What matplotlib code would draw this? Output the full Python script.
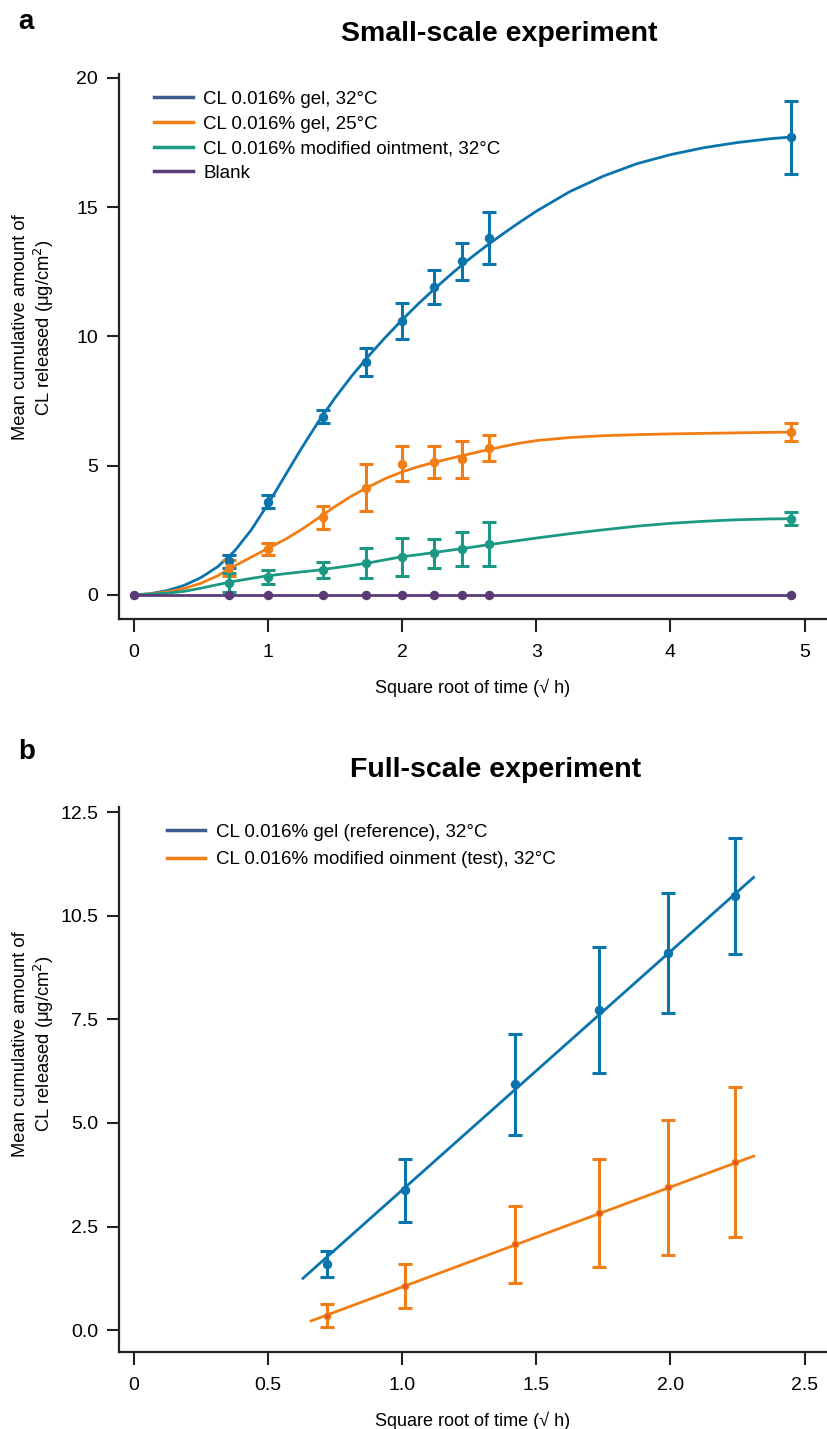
import matplotlib
matplotlib.use("Agg")
import matplotlib.pyplot as plt
from matplotlib.lines import Line2D

plt.rcParams['font.family'] = ['Liberation Sans', 'DejaVu Sans']

# ---------------- Panel a data ----------------
xa = [0, 0.707, 1.0, 1.414, 1.732, 2.0, 2.236, 2.449, 2.646, 4.9]
gel32 = [0, 1.3, 3.6, 6.9, 9.0, 10.6, 11.9, 12.9, 13.8, 17.7]
gel32_err = [0, 0.25, 0.25, 0.25, 0.55, 0.7, 0.65, 0.7, 1.0, 1.4]
gel25 = [0, 1.04, 1.78, 3.0, 4.15, 5.07, 5.15, 5.25, 5.68, 6.3]
gel25_err = [0, 0.3, 0.23, 0.45, 0.9, 0.68, 0.62, 0.72, 0.5, 0.35]
oint32 = [0, 0.47, 0.7, 0.97, 1.24, 1.47, 1.62, 1.78, 1.97, 2.95]
oint32_err = [0, 0.37, 0.27, 0.3, 0.58, 0.73, 0.56, 0.66, 0.84, 0.25]
blank = [0, 0, 0, 0, 0, 0, 0, 0, 0, 0]

# fitted curves
fit_x = [0, 0.125, 0.25, 0.375, 0.5, 0.625, 0.75, 0.875, 1.0, 1.125, 1.25,
         1.375, 1.5, 1.625, 1.75, 1.875, 2.0, 2.125, 2.25, 2.375, 2.5, 2.625,
         2.75, 2.875, 3.0, 3.25, 3.5, 3.75, 4.0, 4.25, 4.5, 4.75, 4.92]
fit_gel32 = [0, 0.05, 0.17, 0.37, 0.67, 1.09, 1.69, 2.51, 3.51, 4.59, 5.67,
             6.69, 7.62, 8.47, 9.24, 9.96, 10.64, 11.28, 11.88, 12.45, 12.99,
             13.49, 13.96, 14.41, 14.84, 15.6, 16.2, 16.68, 17.03, 17.3,
             17.5, 17.65, 17.72]
fit_gel25 = [0, 0.04, 0.12, 0.25, 0.45, 0.74, 1.12, 1.46, 1.8, 2.14, 2.53,
             2.97, 3.42, 3.83, 4.18, 4.5, 4.76, 4.97, 5.14, 5.3, 5.45, 5.6,
             5.74, 5.87, 5.97, 6.09, 6.16, 6.2, 6.23, 6.25, 6.27, 6.29, 6.3]
fit_oint32 = [0, 0.03, 0.07, 0.14, 0.26, 0.4, 0.53, 0.64, 0.74, 0.82, 0.89,
              0.96, 1.05, 1.14, 1.24, 1.36, 1.48, 1.56, 1.65, 1.74, 1.83,
              1.93, 2.02, 2.11, 2.2, 2.37, 2.52, 2.66, 2.77, 2.85, 2.91,
              2.94, 2.95]

labels_a = ["CL 0.016% gel, 32°C", "CL 0.016% gel, 25°C",
            "CL 0.016% modified ointment, 32°C", "Blank"]

# ---------------- Panel b data ----------------
xb = [0.72, 1.01, 1.42, 1.735, 1.99, 2.24]
ref = [1.59, 3.38, 5.93, 7.72, 9.1, 10.49]
ref_err = [0.31, 0.76, 1.22, 1.52, 1.45, 1.4]
test = [0.35, 1.07, 2.07, 2.82, 3.45, 4.06]
test_err = [0.27, 0.53, 0.93, 1.3, 1.63, 1.81]
ref_line_x = [0.63, 2.31]
ref_line_y = [1.25, 10.93]
test_line_x = [0.66, 2.31]
test_line_y = [0.22, 4.2]
labels_b = ["CL 0.016% gel (reference), 32°C",
            "CL 0.016% modified oinment (test), 32°C"]
yticks_b = [0, 2.5, 5.0, 7.5, 10.0, 12.5]
yticklabels_b = ["0.0", "2.5", "5.0", "7.5", "10.5", "12.5"]
xticks_b = [0, 0.5, 1.0, 1.5, 2.0, 2.5]
xticklabels_b = ["0", "0.5", "1.0", "1.5", "2.0", "2.5"]

BLUE = '#0a74ad'
ORANGE = '#f07e14'
TEAL = '#1b9984'
PURPLE = '#5b3a78'
LEG_BLUE = '#3f5b8c'

fig = plt.figure(figsize=(8.28, 14.29), dpi=100)
ax1 = fig.add_axes([119/828, 1 - 619/1429, (826-119)/828, (619-74)/1429])
ax2 = fig.add_axes([119/828, 1 - 1352/1429, (826-119)/828, (1352-807)/1429])

lw = 2.0
ekw = dict(fmt='o', ms=5.8, elinewidth=2.2, capsize=5, capthick=2.2, lw=0)

# panel a
ax1.plot(fit_x, fit_gel32, color=BLUE, lw=lw, zorder=3, solid_joinstyle='round')
ax1.errorbar(xa[1:], gel32[1:], yerr=gel32_err[1:], color=BLUE, zorder=3, **ekw)
ax1.plot(fit_x, fit_gel25, color=ORANGE, lw=lw, zorder=3, solid_joinstyle='round')
ax1.errorbar(xa[1:], gel25[1:], yerr=gel25_err[1:], color=ORANGE, zorder=3, **ekw)
ax1.plot(fit_x, fit_oint32, color=TEAL, lw=lw, zorder=3, solid_joinstyle='round')
ax1.errorbar(xa[1:], oint32[1:], yerr=oint32_err[1:], color=TEAL, zorder=3, **ekw)
ax1.plot(xa, blank, color=PURPLE, lw=lw, marker='o', ms=5.8, zorder=4)

ax1.set_xlim(-0.11, 5.16)
ax1.set_ylim(-0.93, 20.15)
ax1.set_xticks([0, 1, 2, 3, 4, 5])
ax1.set_yticks([0, 5, 10, 15, 20])

handles_a = [Line2D([], [], color=c, lw=2.5) for c in (LEG_BLUE, ORANGE, TEAL, PURPLE)]
ax1.legend(handles_a, labels_a, loc='upper left', bbox_to_anchor=(0.026, 1.0),
           frameon=False, fontsize=13.5, handlelength=2.05, handletextpad=0.55,
           labelspacing=0.4)

# panel b
ax2.plot(ref_line_x, ref_line_y, color=BLUE, lw=lw, zorder=3)
ax2.errorbar(xb, ref, yerr=ref_err, color=BLUE, zorder=3, **ekw)
ax2.plot(test_line_x, test_line_y, color=ORANGE, lw=lw, zorder=3)
ax2.errorbar(xb, test, yerr=test_err, color=ORANGE, zorder=3,
             fmt='o', ms=4.5, mfc='#e8502a', mec=ORANGE, elinewidth=2.2,
             capsize=5, capthick=2.2, lw=0)

ax2.set_xlim(-0.056, 2.58)
ax2.set_ylim(-0.53, 12.63)
ax2.set_xticks(xticks_b)
ax2.set_xticklabels(xticklabels_b)
ax2.set_yticks(yticks_b)
ax2.set_yticklabels(yticklabels_b)

handles_b = [Line2D([], [], color=c, lw=2.5) for c in (LEG_BLUE, ORANGE)]
ax2.legend(handles_b, labels_b, loc='upper left', bbox_to_anchor=(0.044, 1.0),
           frameon=False, fontsize=13.5, handlelength=2.05, handletextpad=0.55,
           labelspacing=0.55)

ylab_y = {ax1: 0.535, ax2: 0.565}
for ax in (ax1, ax2):
    for s in ('top', 'right'):
        ax.spines[s].set_visible(False)
    for s in ('left', 'bottom'):
        ax.spines[s].set_linewidth(1.6)
        ax.spines[s].set_color('#222222')
    ax.tick_params(axis='both', length=9, width=1.5, labelsize=14, pad=6,
                   color='#222222')
    ax.tick_params(axis='x', pad=9)
    ax.set_xlabel("Square root of time (√ h)", fontsize=13, labelpad=13)
    ax.set_ylabel("Mean cumulative amount of\nCL released (μg/cm$^2$)",
                  fontsize=13.2, linespacing=1.15)
    ax.yaxis.set_label_coords(-0.089, ylab_y[ax])

fig.text(499/828, 1 - 34/1429, "Small-scale experiment", fontsize=20.5,
         fontweight='bold', ha='center', va='center')
fig.text(496/828, 1 - 770/1429, "Full-scale experiment", fontsize=20.5,
         fontweight='bold', ha='center', va='center')
fig.text(18/828, 1 - 22/1429, "a", fontsize=20, fontweight='bold',
         ha='left', va='center')
fig.text(18/828, 1 - 752/1429, "b", fontsize=20, fontweight='bold',
         ha='left', va='center')

fig.savefig("out.png", dpi=100)
